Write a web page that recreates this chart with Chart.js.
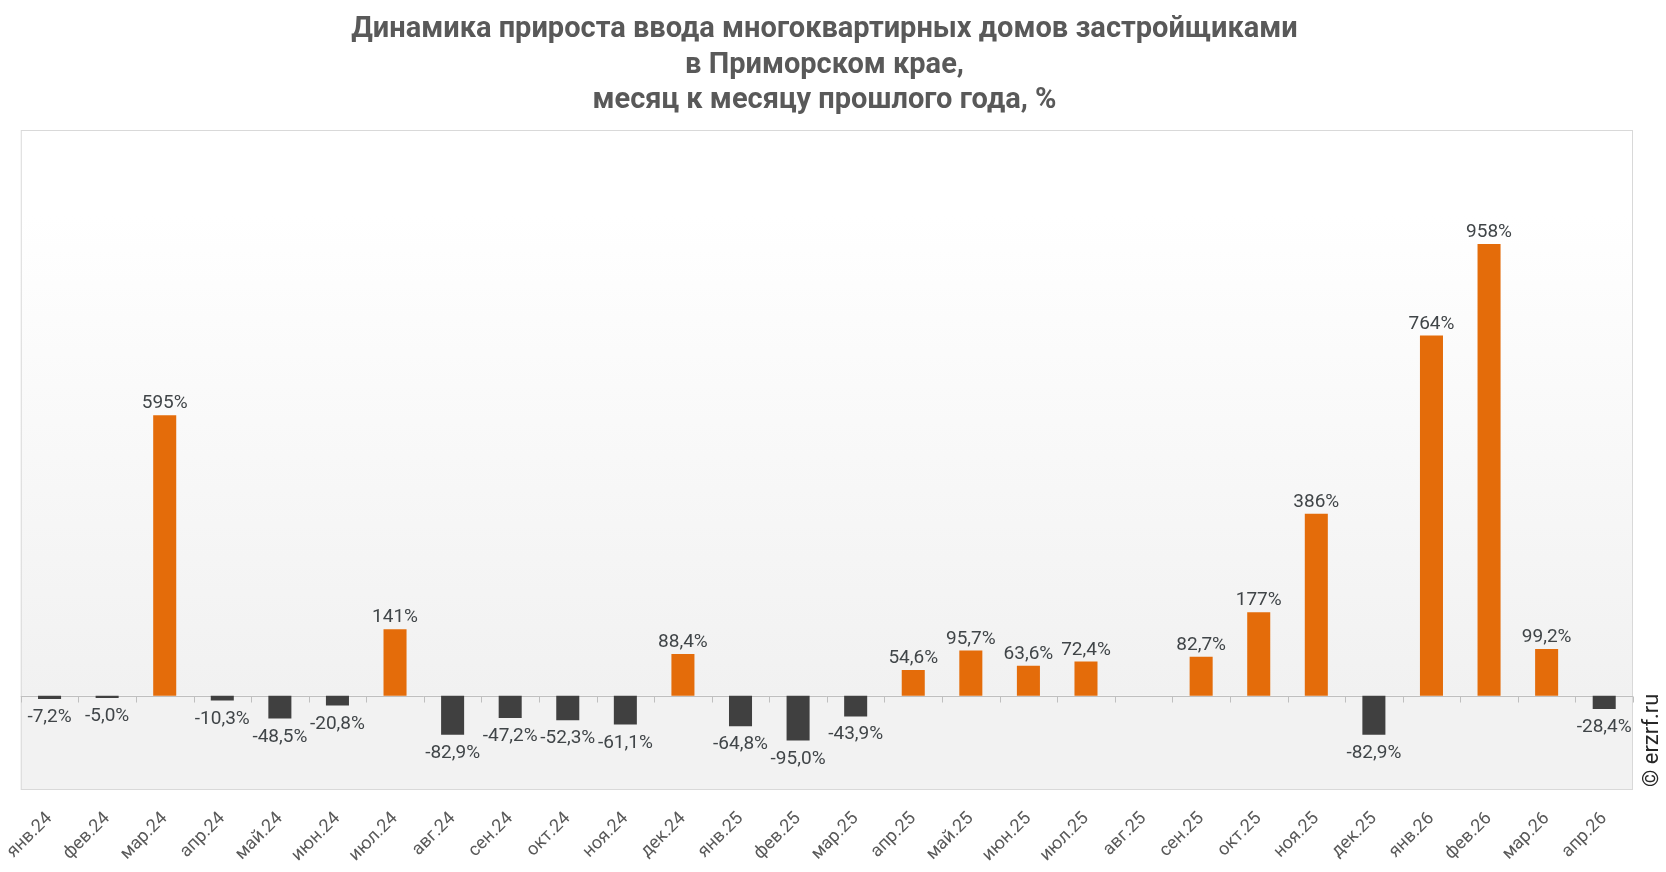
<!DOCTYPE html>
<html lang="ru">
<head>
<meta charset="utf-8">
<title>Динамика прироста ввода МКД</title>
<script src="https://cdn.jsdelivr.net/npm/chart.js@4.4.1/dist/chart.umd.min.js"></script>
<style>
  html, body { margin: 0; padding: 0; background: #fff; overflow: hidden; }
  canvas { display: block; }
</style>
</head>
<body>
<canvas id="chart" width="1666" height="872" style="width:1666px;height:872px"></canvas>
<script>
// данные
const months = ['янв.24', 'фев.24', 'мар.24', 'апр.24', 'май.24', 'июн.24', 'июл.24', 'авг.24',
  'сен.24', 'окт.24', 'ноя.24', 'дек.24', 'янв.25', 'фев.25', 'мар.25', 'апр.25', 'май.25',
  'июн.25', 'июл.25', 'авг.25', 'сен.25', 'окт.25', 'ноя.25', 'дек.25', 'янв.26', 'фев.26',
  'мар.26', 'апр.26'];
const growth = [-7.2, -5.0, 595, -10.3, -48.5, -20.8, 141, -82.9,
  -47.2, -52.3, -61.1, 88.4, -64.8, -95.0, -43.9, 54.6, 95.7,
  63.6, 72.4, null, 82.7, 177, 386, -82.9, 764, 958,
  99.2, -28.4];
const titleLines = ['Динамика прироста ввода многоквартирных домов застройщиками',
  'в Приморском крае,', 'месяц к месяцу прошлого года, %'];

const ORANGE = '#E46C0A';
const DARK = '#404040';
const FONT = 'Roboto, "Noto Sans", sans-serif';

function fmt(v) {
  const s = Math.abs(v) >= 100 ? Math.round(v).toString() : v.toFixed(1);
  return s.replace('.', ',') + '%';
}

// фон и рамка области построения
const plotBg = {
  id: 'plotBg',
  beforeDraw(chart) {
    const { ctx, chartArea: a, scales } = chart;
    const zero = scales.y.getPixelForValue(0);
    const g = ctx.createLinearGradient(0, a.top, 0, zero);
    g.addColorStop(0, '#ffffff');
    g.addColorStop(0.15, '#ffffff');
    g.addColorStop(1, '#f1f1f1');
    ctx.save();
    ctx.fillStyle = g;
    ctx.fillRect(a.left, a.top, a.width, zero - a.top);
    ctx.fillStyle = '#f2f2f2';
    ctx.fillRect(a.left, zero, a.width, a.bottom - zero);
    ctx.strokeStyle = '#d9d9d9';
    ctx.lineWidth = 1;
    ctx.strokeRect(a.left + 0.5, a.top + 0.5, a.width - 1, a.height - 1);
    ctx.restore();
  },
  beforeDatasetsDraw(chart) {
    const { ctx, chartArea: a, scales } = chart;
    const zero = Math.round(scales.y.getPixelForValue(0)) + 0.5;
    ctx.save();
    ctx.strokeStyle = '#bfbfbf';
    ctx.lineWidth = 1;
    ctx.beginPath();
    ctx.moveTo(a.left, zero);
    ctx.lineTo(a.right, zero);
    // засечки на границах категорий
    for (let i = 0; i <= months.length; i++) {
      const x = Math.round(scales.x.getPixelForValue(i - 0.5)) + 0.5;
      ctx.moveTo(x, zero);
      ctx.lineTo(x, zero + 6);
    }
    ctx.stroke();
    ctx.restore();
  }
};

// подписи значений
const valueLabels = {
  id: 'valueLabels',
  afterDatasetsDraw(chart) {
    const { ctx } = chart;
    const meta = chart.getDatasetMeta(0);
    ctx.save();
    ctx.font = '19px ' + FONT;
    ctx.fillStyle = '#404548';
    ctx.textAlign = 'center';
    ctx.textBaseline = 'alphabetic';
    meta.data.forEach((bar, i) => {
      const v = growth[i];
      if (v === null) return;
      if (v >= 0) {
        ctx.fillText(fmt(v), bar.x, bar.y - 7);
      } else {
        ctx.fillText(fmt(v), bar.x, bar.y + 23);
      }
    });
    ctx.restore();
  }
};

// копирайт справа
const copyright = {
  id: 'copyright',
  afterDraw(chart) {
    const { ctx, chartArea: a } = chart;
    ctx.save();
    ctx.translate(a.right + 19, a.bottom - 3);
    ctx.rotate(-Math.PI / 2);
    ctx.font = '22px ' + FONT;
    ctx.fillStyle = '#262626';
    ctx.textAlign = 'left';
    ctx.textBaseline = 'middle';
    ctx.fillText('© erzrf.ru', 0, 0);
    ctx.restore();
  }
};

new Chart(document.getElementById('chart'), {
  type: 'bar',
  data: {
    labels: months,
    datasets: [{
      data: growth,
      backgroundColor: growth.map(v => v >= 0 ? ORANGE : DARK),
      borderWidth: 0,
      categoryPercentage: 1,
      barPercentage: 0.4
    }]
  },
  options: {
    responsive: false,
    devicePixelRatio: 1,
    animation: false,
    layout: { padding: { left: 16, right: 33, top: 3, bottom: 0 } },
    plugins: {
      legend: { display: false },
      tooltip: { enabled: false },
      title: {
        display: true,
        text: titleLines,
        color: '#595959',
        font: { family: FONT, size: 29, weight: 'bold', lineHeight: 1.23 },
        padding: { top: 9, bottom: 11 }
      }
    },
    scales: {
      x: {
        grid: { display: false },
        border: { display: false },
        ticks: {
          color: '#595959',
          font: { family: FONT, size: 18 },
          minRotation: 45,
          maxRotation: 45,
          autoSkip: false,
          padding: 10
        },
        afterFit(scale) { scale.height = 82; }
      },
      y: {
        min: -200,
        max: 1200,
        display: true,
        grid: { display: false },
        border: { display: false },
        ticks: { display: false },
        afterFit(scale) { scale.width = 0; }
      }
    }
  },
  plugins: [plotBg, valueLabels, copyright]
});
</script>
</body>
</html>
